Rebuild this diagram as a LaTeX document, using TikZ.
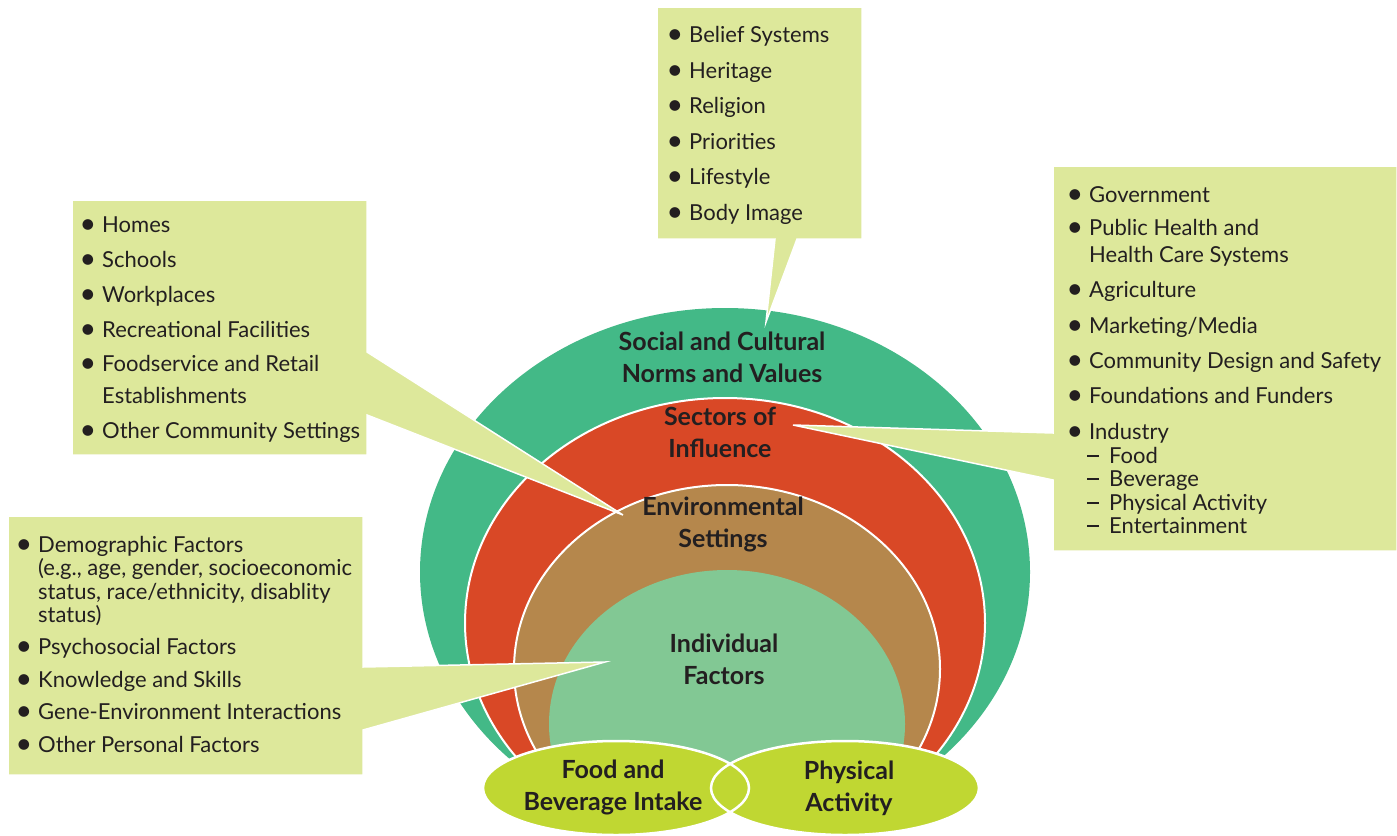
\documentclass[tikz,border=0pt]{standalone}
\usepackage{fontspec}
\setmainfont{Lato}
\definecolor{outergreen}{HTML}{43B987}
\definecolor{sectorred}{HTML}{D94826}
\definecolor{envbrown}{HTML}{B5874C}
\definecolor{indgreen}{HTML}{82C894}
\definecolor{behav}{HTML}{C0D732}
\definecolor{callout}{HTML}{DDE89B}
\definecolor{txt}{HTML}{231F20}
\newcommand\bul{\llap{\raisebox{-1.2pt}{\scalebox{1.3}{\textbullet}}\hspace{6pt}}}
\newcommand\dsh{\llap{\rule[6.5pt]{12pt}{1.2pt}\hspace{10pt}}}
\begin{document}
\begin{tikzpicture}[x=1pt,y=-1pt,
  item/.style={anchor=base west,inner sep=0pt,font=\fontsize{22}{26}\selectfont,text=txt},
  lbl/.style={align=center,inner sep=0pt,font=\bfseries\fontsize{25}{32}\selectfont,text=txt},
  ring/.style={draw=white,line width=2pt},
  bubble/.style={fill=callout,draw=white,line width=1.5pt,line join=miter}]
\useasboundingbox (0,0) rectangle (1397,835);
% rings
\begin{scope}
\clip (0,0) rectangle (1397,790);
\fill[outergreen] (725,572) ellipse [x radius=305pt,y radius=264pt];
\filldraw[ring,fill=sectorred] (725,623) ellipse [x radius=260pt,y radius=225pt];
\filldraw[ring,fill=envbrown] (727,669) ellipse [x radius=213pt,y radius=184pt];
\fill[indgreen] (727,724) ellipse [x radius=178pt,y radius=154pt];
\end{scope}
% behaviour ellipses
\fill[behav] (616,788) ellipse [x radius=133pt,y radius=47pt];
\fill[behav] (845,788) ellipse [x radius=134pt,y radius=47pt];
\draw[white,line width=2.5pt] (616,788) ellipse [x radius=133pt,y radius=47pt];
\draw[white,line width=2.5pt] (845,788) ellipse [x radius=134pt,y radius=47pt];
% callouts
\path[bubble] (657,7) -- (862,7) -- (862,239) -- (797,239) -- (766,322) -- (775,239) -- (657,239) -- cycle;
\path[bubble] (72,200) -- (367,200) -- (367,352) -- (623,515) -- (367,415) -- (367,455) -- (72,455) -- cycle;
\path[bubble] (1053,166) -- (1397,166) -- (1397,551) -- (1053,551) -- (1053,480) -- (793,425) -- (1053,433) -- cycle;
\path[bubble] (8,516) -- (363,516) -- (363,667) -- (605,662) -- (363,730) -- (363,775) -- (8,775) -- cycle;
% ring labels
\node[lbl] (social) at (722,357) {Social and Cultural\\Norms and Values};
\node[lbl] (sectors) at (720,432) {Sectors of\\Influence};
\node[lbl] (env) at (723,524) {Environmental\\Settings};
\node[lbl] (indiv) at (724,659) {Individual\\Factors};
\node[lbl] (food) at (613,787) {Food and\\Beverage Intake};
\node[lbl] (phys) at (849,788) {Physical\\Activity};
% top callout
\node[item] (t1) at (689,42.5) {\bul Belief Systems};
\node[item] (t2) at (689,78) {\bul Heritage};
\node[item] (t3) at (689,113.5) {\bul Religion};
\node[item] (t4) at (689,149) {\bul Priorities};
\node[item] (t5) at (689,184.5) {\bul Lifestyle};
\node[item] (t6) at (689,220) {\bul Body Image};
% left upper callout
\node[item] (l1) at (102,232) {\bul Homes};
\node[item] (l2) at (102,267) {\bul Schools};
\node[item] (l3) at (102,302) {\bul Workplaces};
\node[item] (l4) at (102,337) {\bul Recreational Facilities};
\node[item] (l5) at (102,371) {\bul Foodservice and Retail};
\node[item] (l6) at (102,403) {Establishments};
\node[item] (l7) at (102,438) {\bul Other Community Settings};
% right callout
\node[item] (r1) at (1089,202) {\bul Government};
\node[item] (r2) at (1089,235) {\bul Public Health and};
\node[item] (r3) at (1089,262) {Health Care Systems};
\node[item] (r4) at (1089,297) {\bul Agriculture};
\node[item] (r5) at (1089,333) {\bul Marketing/Media};
\node[item] (r6) at (1089,368) {\bul Community Design and Safety};
\node[item] (r7) at (1089,403) {\bul Foundations and Funders};
\node[item] (r8) at (1089,439) {\bul Industry};
\node[item] (r9) at (1109,463) {\dsh Food};
\node[item] (r10) at (1109,486) {\dsh Beverage};
\node[item] (r11) at (1109,510) {\dsh Physical Activity};
\node[item] (r12) at (1109,533) {\dsh Entertainment};
% bottom left callout
\node[item] (b1) at (38,552) {\bul Demographic Factors};
\node[item] (b2) at (38,575) {(e.g., age, gender, socioeconomic};
\node[item] (b3) at (38,599) {status, race/ethnicity, disablity};
\node[item] (b4) at (38,622) {status)};
\node[item] (b5) at (38,654) {\bul Psychosocial Factors};
\node[item] (b6) at (38,687) {\bul Knowledge and Skills};
\node[item] (b7) at (38,719) {\bul Gene-Environment Interactions};
\node[item] (b8) at (38,752) {\bul Other Personal Factors};
\end{tikzpicture}
\end{document}
